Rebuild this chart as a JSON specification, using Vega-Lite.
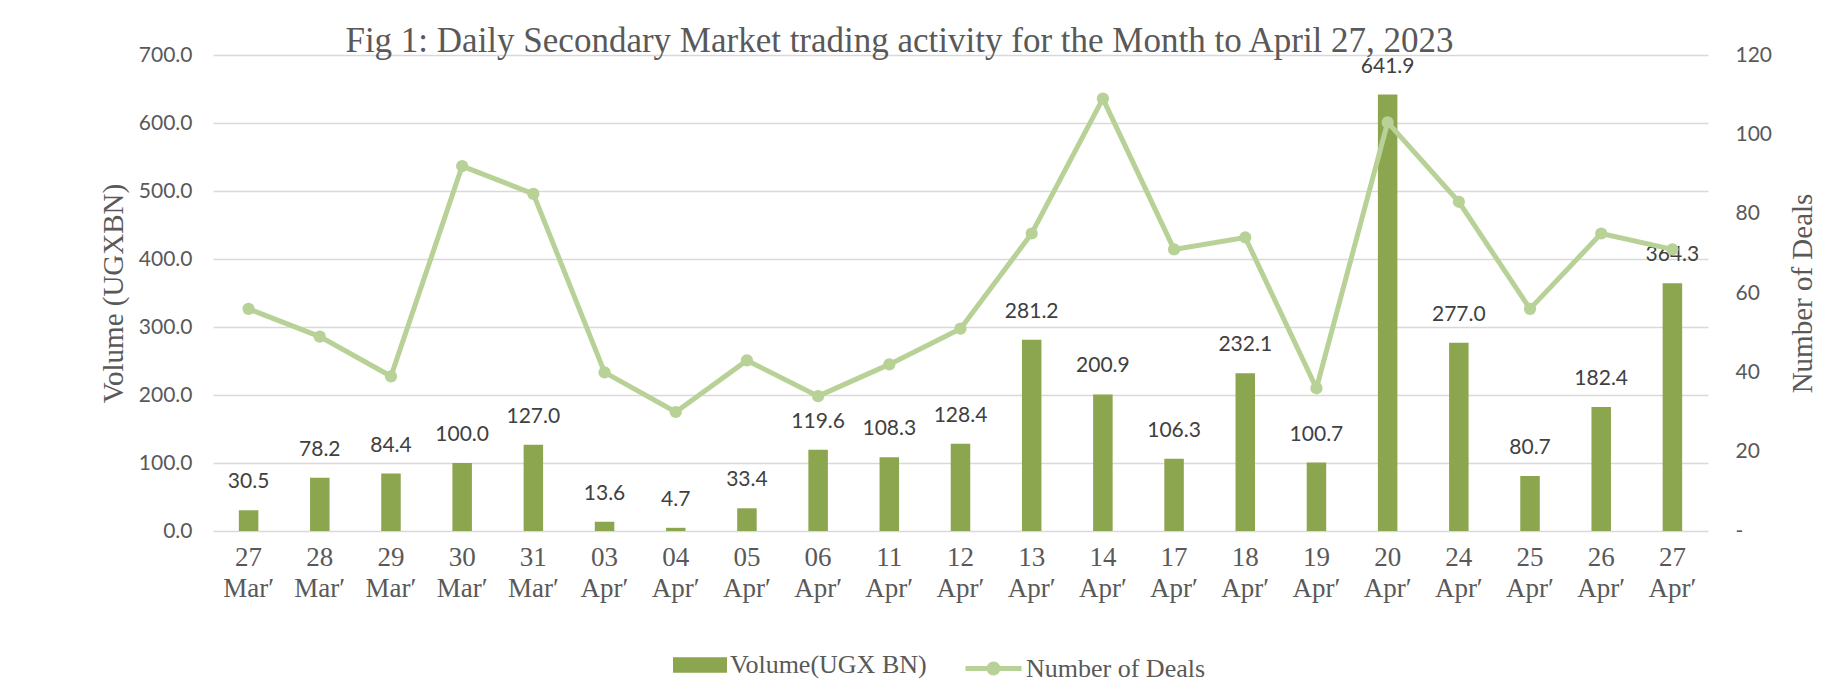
{
  "$schema": "https://vega.github.io/schema/vega-lite/v6.json",
  "autosize": {"type": "none"},
  "width": 1495,
  "height": 476,
  "padding": {"left": 213, "top": 55, "right": 136, "bottom": 168},
  "background": "white",
  "title": {
    "text": "Fig 1: Daily Secondary Market trading activity for the Month to April 27, 2023",
    "font": "Liberation Serif",
    "fontSize": 35,
    "fontWeight": "normal",
    "color": "#595959",
    "anchor": "middle",
    "baseline": "alphabetic",
    "offset": 0,
    "dx": -61,
    "dy": 43
  },
  "data": {
    "values": [
      {"date": "27 Mar′", "volume": 30.5, "deals": 56},
      {"date": "28 Mar′", "volume": 78.2, "deals": 49},
      {"date": "29 Mar′", "volume": 84.4, "deals": 39},
      {"date": "30 Mar′", "volume": 100.0, "deals": 92},
      {"date": "31 Mar′", "volume": 127.0, "deals": 85},
      {"date": "03 Apr′", "volume": 13.6, "deals": 40},
      {"date": "04 Apr′", "volume": 4.7, "deals": 30},
      {"date": "05 Apr′", "volume": 33.4, "deals": 43},
      {"date": "06 Apr′", "volume": 119.6, "deals": 34},
      {"date": "11 Apr′", "volume": 108.3, "deals": 42},
      {"date": "12 Apr′", "volume": 128.4, "deals": 51},
      {"date": "13 Apr′", "volume": 281.2, "deals": 75},
      {"date": "14 Apr′", "volume": 200.9, "deals": 109},
      {"date": "17 Apr′", "volume": 106.3, "deals": 71},
      {"date": "18 Apr′", "volume": 232.1, "deals": 74},
      {"date": "19 Apr′", "volume": 100.7, "deals": 36},
      {"date": "20 Apr′", "volume": 641.9, "deals": 103},
      {"date": "24 Apr′", "volume": 277.0, "deals": 83},
      {"date": "25 Apr′", "volume": 80.7, "deals": 56},
      {"date": "26 Apr′", "volume": 182.4, "deals": 75},
      {"date": "27 Apr′", "volume": 364.3, "deals": 71}
    ]
  },
  "encoding": {
    "x": {
      "field": "date",
      "type": "nominal",
      "sort": null,
      "scale": {"paddingInner": 0, "paddingOuter": 0},
      "axis": {
        "title": null,
        "labelExpr": "split(datum.label, ' ')",
        "labelAngle": 0,
        "labelFont": "Liberation Serif",
        "labelFontSize": 27,
        "labelColor": "#595959",
        "labelLineHeight": 31,
        "labelBaseline": "top",
        "labelPadding": 13,
        "ticks": false,
        "domain": false
      }
    }
  },
  "layer": [
    {
      "encoding": {
        "y": {
          "field": "volume",
          "type": "quantitative",
          "scale": {"domain": [0, 700], "nice": false},
          "axis": {
            "title": "Volume (UGXBN)",
            "titleFont": "Liberation Serif",
            "titleFontSize": 29,
            "titleFontWeight": "normal",
            "titleColor": "#595959",
            "titleX": -100,
            "titleAngle": -90,
            "titleBaseline": "middle",
            "values": [0, 100, 200, 300, 400, 500, 600, 700],
            "format": ".1f",
            "labelFont": "Lato",
            "labelFontSize": 21,
            "labelColor": "#595959",
            "labelPadding": 21,
            "ticks": false,
            "domain": false,
            "grid": true,
            "gridColor": "#D9D9D9",
            "gridWidth": 1.5
          }
        }
      },
      "layer": [
        {
          "mark": {"type": "bar", "width": 19.5},
          "encoding": {
            "fill": {
              "datum": "Volume(UGX BN)",
              "type": "nominal",
              "scale": {"range": ["#8BA64E"]},
              "legend": {
                "title": null,
                "orient": "none",
                "legendX": 460,
                "legendY": 583,
                "padding": 0,
                "symbolType": "M-1,-0.29H1V0.29H-1Z",
                "symbolSize": 2916,
                "symbolStrokeWidth": 0,
                "labelFont": "Liberation Serif",
                "labelFontSize": 26,
                "labelColor": "#595959",
                "labelOffset": 3,
                "labelLimit": 400,
                "labelBaseline": "middle"
              }
            }
          }
        },
        {
          "mark": {
            "type": "text",
            "font": "Lato",
            "fontSize": 21,
            "color": "#404040",
            "baseline": "middle",
            "dy": -28
          },
          "encoding": {
            "text": {"field": "volume", "type": "quantitative", "format": ".1f"}
          }
        }
      ]
    },
    {
      "encoding": {
        "y": {
          "field": "deals",
          "type": "quantitative",
          "scale": {"domain": [0, 120], "nice": false},
          "axis": {
            "orient": "right",
            "title": "Number of Deals",
            "titleFont": "Liberation Serif",
            "titleFontSize": 29,
            "titleFontWeight": "normal",
            "titleColor": "#595959",
            "titleAngle": -90,
            "titleX": 94,
            "titleBaseline": "middle",
            "values": [0, 20, 40, 60, 80, 100, 120],
            "labelExpr": "datum.value == 0 ? '-' : datum.label",
            "labelFont": "Lato",
            "labelFontSize": 21,
            "labelColor": "#595959",
            "labelPadding": 27,
            "ticks": false,
            "domain": false,
            "grid": false
          }
        }
      },
      "layer": [
        {
          "mark": {"type": "line", "strokeWidth": 5},
          "encoding": {
            "stroke": {
              "datum": "Number of Deals",
              "type": "nominal",
              "scale": {"range": ["#B8D197"]},
              "legend": {
                "title": null,
                "orient": "none",
                "legendX": 750,
                "legendY": 583,
                "padding": 0,
                "symbolType": "M-1,0H1M0.16,0A0.16,0.16 0 1,1 -0.16,0A0.16,0.16 0 1,1 0.16,0",
                "symbolSize": 3136,
                "symbolStrokeWidth": 5,
                "symbolFillColor": "#B8D197",
                "labelFont": "Liberation Serif",
                "labelFontSize": 26,
                "labelColor": "#595959",
                "labelOffset": 2,
                "labelLimit": 400,
                "labelBaseline": "middle"
              }
            }
          }
        },
        {
          "mark": {"type": "point", "filled": true, "size": 150, "color": "#B8D197", "opacity": 1},
          "encoding": {}
        }
      ]
    }
  ],
  "resolve": {"scale": {"y": "independent"}},
  "config": {
    "view": {"stroke": null}
  }
}
